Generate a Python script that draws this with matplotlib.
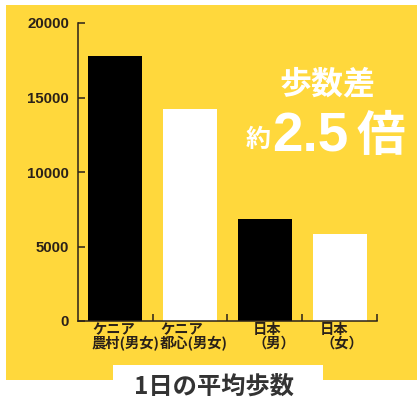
import matplotlib
matplotlib.use("Agg")
import matplotlib.pyplot as plt
from matplotlib.patches import Rectangle
from matplotlib.ticker import FixedLocator

# ---- data ----
categories_line1 = ["ケニア", "ケニア", "日本", "日本"]
categories_line2 = ["農村(男女)", "都心(男女)", "（男）", "（女）"]
steps = [17800, 14200, 6850, 5850]
bar_colors = ["#000000", "#ffffff", "#000000", "#ffffff"]
yticks = [0, 5000, 10000, 15000, 20000]
title = "1日の平均歩数"
note_top = "歩数差"
note_pre = "約"
note_num = "2.5"
note_post = "倍"

# ---- layout ----
W, H = 417, 400
YELLOW = "#FFD83C"
DARK = "#2a2119"
CJK = ["Noto Sans CJK JP", "DejaVu Sans"]

def fx(px):
    return px / W

def fy(py):
    return 1 - py / H

fig = plt.figure(figsize=(W / 100, H / 100), dpi=100, facecolor="white")

# background panels
fig.patches.append(Rectangle((fx(6), fy(380)), fx(417) - fx(6), fy(5) - fy(380),
                             transform=fig.transFigure, facecolor=YELLOW,
                             edgecolor="none", zorder=-2))
fig.patches.append(Rectangle((fx(113), fy(400)), fx(323) - fx(113), fy(365) - fy(400),
                             transform=fig.transFigure, facecolor="white",
                             edgecolor="none", zorder=-1))

ax_left, ax_right, ax_top, ax_bottom = 78, 377, 23, 321
ax = fig.add_axes([fx(ax_left), fy(ax_bottom), (ax_right - ax_left) / W,
                   (ax_bottom - ax_top) / H])
ax.set_facecolor("none")
ax.set_zorder(1)

x = list(range(len(steps)))
ax.bar(x, steps, width=0.72, color=bar_colors, edgecolor="none", zorder=2)
ax.set_xlim(-0.5, len(steps) - 0.5)
ax.set_ylim(0, 20000)

for s in ["top", "right"]:
    ax.spines[s].set_visible(False)
for s in ["left", "bottom"]:
    ax.spines[s].set_linewidth(1.1)
    ax.spines[s].set_color(DARK)

ax.set_yticks(yticks)
ax.set_yticklabels([str(v) for v in yticks], fontfamily="Liberation Sans",
                   fontweight="bold", fontsize=10.8, color=DARK)
ax.tick_params(axis="y", direction="in", length=5, width=1.1, color=DARK, pad=6.5)

ax.set_xticks([])
ax.xaxis.set_minor_locator(FixedLocator([i + 0.5 for i in x]))
ax.tick_params(axis="x", which="minor", direction="in", length=5, width=1.1,
               color=DARK)

# category labels (two lines each, one text per category)
label_left_px = [92, 160, 253, 320]
for i in x:
    fig.text(fx(label_left_px[i]), fy(323), categories_line1[i] + "\n" + categories_line2[i],
             ha="left", va="top", multialignment="left", linespacing=0.95,
             fontsize=10.3, fontweight="bold", family=CJK, color=DARK)

# title
fig.text(fx(214), fy(386.5), title, ha="center", va="center", fontsize=17.5,
         fontweight="bold", family=CJK, color="#333333")

# annotation
fig.text(fx(327), fy(84), note_top, ha="center", va="center", fontsize=23,
         fontweight="bold", family=CJK, color="white")
fig.text(fx(258), fy(140), note_pre, ha="center", va="center", fontsize=18,
         fontweight="bold", family=CJK, color="white")
fig.text(fx(272), fy(152), note_num, ha="left", va="baseline", fontsize=39.5,
         fontweight="bold", family="Liberation Sans", color="white")
fig.text(fx(381), fy(136.5), note_post, ha="center", va="center", fontsize=35,
         fontweight="bold", family=CJK, color="white")

fig.savefig("out.png", dpi=100, facecolor="white")
